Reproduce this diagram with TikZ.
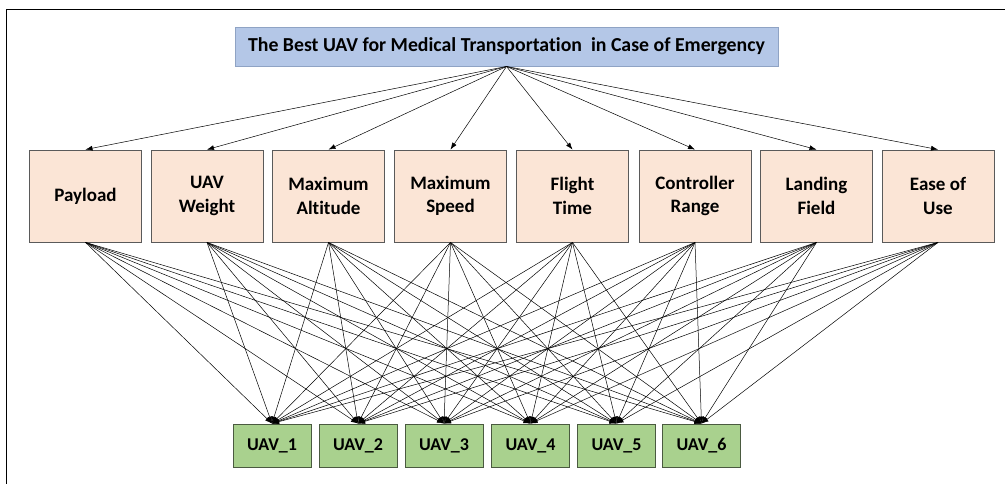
\documentclass[tikz,border=0pt]{standalone}
\usepackage{fontspec}
\setmainfont{Carlito}[Ligatures=CommonOff]
\usetikzlibrary{arrows.meta}
\definecolor{titlefill}{HTML}{B4C7E7}
\definecolor{titledraw}{HTML}{8FA3C4}
\definecolor{critfill}{HTML}{FBE5D6}
\definecolor{critdraw}{HTML}{5A5A5A}
\definecolor{uavfill}{HTML}{A9D18E}
\definecolor{uavdraw}{HTML}{4A5A40}
\tikzset{
  titlebox/.style={draw=titledraw, fill=titlefill, line width=0.9pt, minimum width=543pt, minimum height=39pt, inner sep=0pt,
    font=\fontsize{19.8}{21}\selectfont\bfseries},
  critbox/.style={draw=critdraw, fill=critfill, line width=0.9pt, minimum width=112pt, minimum height=92pt, inner sep=0pt, align=center,
    font=\fontsize{19}{23.5}\selectfont\bfseries},
  uavbox/.style={draw=uavdraw, fill=uavfill, line width=0.9pt, minimum width=78pt, minimum height=43pt, inner sep=0pt,
    font=\fontsize{18}{20}\selectfont\bfseries},
  link/.style={draw=black, line width=0.5pt, -{Latex[length=7pt,width=5pt]}},
}
\begin{document}
\begin{tikzpicture}[x=1pt,y=-1pt]
\useasboundingbox (0,0) rectangle (1005,484);
\draw[line width=1pt] (6,484) -- (6,10) -- (1005,10);
\node[titlebox] (top) at (506.5,46.5) {The Best UAV for Medical Transportation\ \ in Case of Emergency};
\node[critbox] (c1) at (85.5,196) {Payload};
\node[critbox] (c2) at (207,196) {UAV\\Weight};
\node[critbox] (c3) at (328.5,196) {Maximum\\Altitude};
\node[critbox] (c4) at (450.5,196) {Maximum\\Speed};
\node[critbox] (c5) at (572.5,196) {Flight\\Time};
\node[critbox] (c6) at (695,196) {Controller\\Range};
\node[critbox] (c7) at (816.5,196) {Landing\\Field};
\node[critbox] (c8) at (938,196) {Ease of\\Use};
\node[uavbox] (u1) at (272,445.5) {UAV\_1};
\node[uavbox] (u2) at (358,445.5) {UAV\_2};
\node[uavbox] (u3) at (444,445.5) {UAV\_3};
\node[uavbox] (u4) at (530.5,445.5) {UAV\_4};
\node[uavbox] (u5) at (616.5,445.5) {UAV\_5};
\node[uavbox] (u6) at (701.5,445.5) {UAV\_6};
\foreach \c in {1,...,8} {
  \draw[link] (top.south) -- (c\c.north);
  \foreach \u in {1,...,6} {
    \draw[link] (c\c.south) -- (u\u.north);
  }
}
\end{tikzpicture}
\end{document}
